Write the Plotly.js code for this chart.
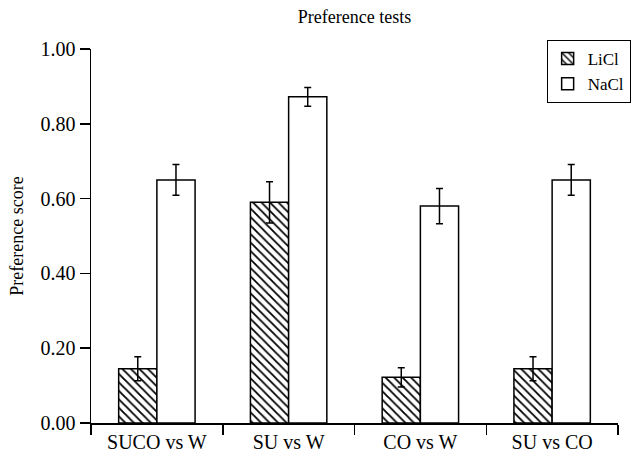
<!DOCTYPE html>
<html>
<head>
<meta charset="utf-8">
<script src="https://cdn.plot.ly/plotly-3.0.1.min.js"></script>
<style>
  html, body { margin: 0; padding: 0; background: #fff; }
  #chart { width: 643px; height: 461px; }
</style>
</head>
<body>
<div id="chart"></div>
<script>
// Preference scores per test pairing, mean ± error
const categories = ['SUCO vs W', 'SU vs W', 'CO vs W', 'SU vs CO'];
const liclScores = [0.145, 0.59, 0.122, 0.145];
const liclErrors = [0.032, 0.055, 0.026, 0.032];
const naclScores = [0.65, 0.872, 0.58, 0.65];
const naclErrors = [0.041, 0.025, 0.047, 0.041];
const yTickValues = [0, 0.2, 0.4, 0.6, 0.8, 1.0];
const yTickLabels = ['0.00', '0.20', '0.40', '0.60', '0.80', '1.00'];

const serif = '"Liberation Serif", "DejaVu Serif", serif';

const errStyle = arr => ({
  type: 'data', array: arr, visible: true,
  color: '#000', thickness: 1.5, width: 3.5
});

const traces = [
  {
    type: 'bar', name: 'LiCl', x: categories, y: liclScores,
    error_y: errStyle(liclErrors),
    marker: {
      color: '#fff',
      line: { color: '#000', width: 1.5 },
      pattern: { shape: '\\', fgcolor: '#000', bgcolor: '#fff', size: 6, solidity: 0.3 }
    }
  },
  {
    type: 'bar', name: 'NaCl', x: categories, y: naclScores,
    error_y: errStyle(naclErrors),
    marker: { color: '#fff', line: { color: '#000', width: 1.5 } }
  }
];

const layout = {
  width: 643, height: 461,
  margin: { l: 91, r: 19, t: 49, b: 38 },
  paper_bgcolor: '#fff', plot_bgcolor: '#fff',
  font: { family: serif, size: 20, color: '#000' },
  barmode: 'group', bargap: 0.42, bargroupgap: 0,
  showlegend: true,
  title: {
    text: 'Preference tests',
    font: { family: serif, size: 18, color: '#000' },
    x: 0.5, xref: 'paper', y: 1 - 17 / 461, yanchor: 'middle'
  },
  xaxis: {
    type: 'category', range: [-0.5, 3.5],
    tickson: 'boundaries', ticks: 'outside', ticklen: 10, tickwidth: 1.5, tickcolor: '#000',
    showline: true, linecolor: '#000', linewidth: 1.5,
    showgrid: false, zeroline: false,
    tickfont: { family: serif, size: 20, color: '#000' }
  },
  yaxis: {
    range: [0, 1], tickvals: yTickValues, ticktext: yTickLabels,
    ticks: 'outside', ticklen: 10, tickwidth: 1.5, tickcolor: '#000',
    showline: true, linecolor: '#000', linewidth: 1.5,
    showgrid: false, zeroline: false,
    tickfont: { family: serif, size: 20, color: '#000' },
    title: { text: 'Preference score', font: { family: serif, size: 18, color: '#000' }, standoff: 12 }
  },
  legend: {
    x: 1.024, xanchor: 'right', y: 1.024, yanchor: 'top',
    bgcolor: '#fff', bordercolor: '#000', borderwidth: 1,
    font: { family: serif, size: 17, color: '#000' },
    tracegroupgap: 0, itemwidth: 30
  }
};

Plotly.newPlot('chart', traces, layout, { displayModeBar: false, staticPlot: true });
</script>
</body>
</html>
